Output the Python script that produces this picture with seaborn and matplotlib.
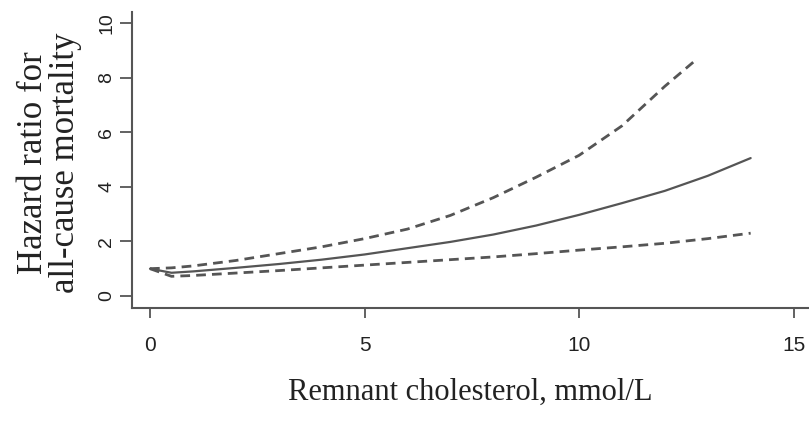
import matplotlib
matplotlib.use("Agg")
import matplotlib.pyplot as plt
import seaborn as sns
import numpy as np
import pandas as pd

# Data
x_vals = [0, 0.5, 1, 2, 3, 4, 5, 6, 7, 8, 9, 10, 11, 12, 13, 14]
hr = [1.0, 0.85, 0.9, 1.03, 1.17, 1.33, 1.52, 1.75, 1.98, 2.25, 2.58, 2.97, 3.4, 3.85, 4.4, 5.05]
lower = [1.0, 0.72, 0.75, 0.84, 0.93, 1.03, 1.13, 1.23, 1.33, 1.43, 1.55, 1.68, 1.8, 1.93, 2.1, 2.3]
x_upper = [0, 0.5, 1, 2, 3, 4, 5, 6, 7, 8, 9, 10, 11, 12, 12.75]
upper = [1.0, 1.03, 1.1, 1.3, 1.55, 1.8, 2.1, 2.45, 2.95, 3.6, 4.35, 5.15, 6.23, 7.68, 8.68]

x_ticks = [0, 5, 10, 15]
y_ticks = [0, 2, 4, 6, 8, 10]
x_label = "Remnant cholesterol, mmol/L"
y_label = "Hazard ratio for\nall-cause mortality"

sns.set_style("white")
plt.rcParams['font.family'] = ['Liberation Sans', 'DejaVu Sans']

fig = plt.figure(figsize=(8.09, 4.22), dpi=100)
ax = fig.add_axes([132/809, (422-308)/422, 1 - 132/809, (308-12)/422])

line_color = "#555555"
sns.lineplot(x=x_vals, y=hr, ax=ax, color=line_color, linewidth=1.6, estimator=None)
sns.lineplot(x=x_vals, y=lower, ax=ax, color=line_color, linewidth=2.0,
             linestyle=(0, (3.5, 2.2)), estimator=None)
sns.lineplot(x=x_upper, y=upper, ax=ax, color=line_color, linewidth=2.0,
             linestyle=(0, (3.5, 2.2)), estimator=None)

ax.set_xlim(-0.42, 15.36)
ax.set_ylim(-0.44, 10.4)
ax.set_xticks(x_ticks)
ax.set_yticks(y_ticks)
ax.set_xticklabels([str(t) for t in x_ticks], fontsize=15, family='Liberation Sans')
ax.set_yticklabels([str(t) for t in y_ticks], fontsize=14, family='Liberation Sans',
                   rotation=90, va='center')

for s in ['top', 'right']:
    ax.spines[s].set_visible(False)
for s in ['left', 'bottom']:
    ax.spines[s].set_color("#555555")
    ax.spines[s].set_linewidth(1.5)

ax.tick_params(axis='both', which='major', direction='out', color="#555555",
               width=1.3, labelcolor="#222222", bottom=True, left=True)
ax.tick_params(axis='x', length=7.2, pad=13)
ax.tick_params(axis='y', length=8.6, pad=3.5)

ax.set_xlabel(x_label, fontsize=22, family='Liberation Serif', color="#222222")
ax.set_ylabel(y_label, fontsize=25, family='Liberation Serif', color="#222222",
              linespacing=0.95)
ax.xaxis.set_label_coords(0.5, (308 - 378) / 296)
ax.yaxis.set_label_coords((82 - 132) / 677, 0.49)

fig.savefig("out.png", dpi=100)
